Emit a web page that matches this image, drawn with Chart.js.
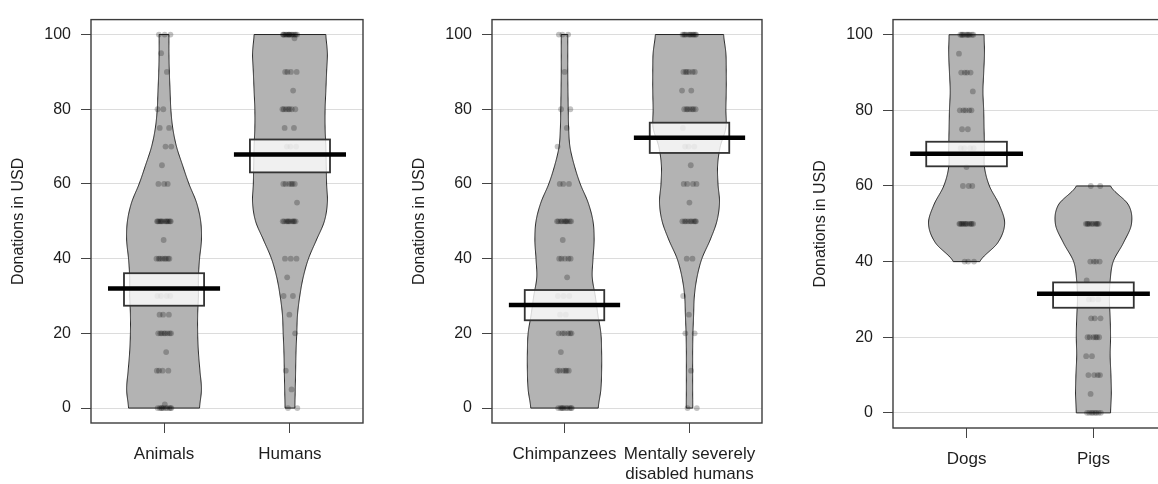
<!DOCTYPE html>
<html><head><meta charset="utf-8">
<script src="https://cdn.jsdelivr.net/npm/chart.js@4.4.1/dist/chart.umd.min.js"></script>
<style>
html,body{margin:0;padding:0;background:#fff;overflow:hidden;width:1158px;height:484px;position:relative;}
canvas{position:absolute;top:0;}
</style></head><body>
<canvas id="c1" width="380" height="484" style="left:0px"></canvas>
<canvas id="c2" width="380" height="484" style="left:401px"></canvas>
<canvas id="c3" width="380" height="484" style="left:802px"></canvas>
<script>
// ---------- data ----------
const yTicks = [0, 20, 40, 60, 80, 100];
const densityLevels = [0,5,10,15,20,25,30,35,40,45,50,55,60,65,70,75,80,85,90,95,100];

// Panel 1
const categories1 = ['Animals', 'Humans'];
const means1 = [32.0, 67.9];
const lower1 = [27.4, 63.1];
const upper1 = [36.1, 71.9];
const animalsValues = [0, 1, 10, 15, 20, 25, 30, 40, 45, 50, 60, 65, 70, 75, 80, 90, 95, 100];
const animalsCounts = [10, 1, 4, 1, 8, 3, 4, 8, 1, 12, 3, 1, 2, 2, 2, 1, 1, 3];
const animalsDensity = [0.94,0.99,0.95,0.91,0.89,0.89,0.91,0.91,0.94,0.99,0.97,0.86,0.66,0.49,0.33,0.23,0.18,0.16,0.14,0.13,0.13];
const humansValues = [0, 5, 10, 20, 25, 30, 35, 40, 50, 55, 60, 70, 75, 80, 85, 90, 99, 100];
const humansCounts = [2, 1, 1, 1, 1, 2, 1, 3, 10, 1, 6, 3, 2, 7, 1, 4, 1, 15];
const humansDensity = [0.13,0.14,0.15,0.16,0.18,0.20,0.26,0.35,0.49,0.70,0.91,0.99,0.97,0.96,0.95,0.93,0.93,0.95,0.97,0.99,0.95];

// Panel 2
const categories2 = ['Chimpanzees', ['Mentally severely', 'disabled humans']];
const means2 = [27.6, 72.4];
const lower2 = [23.5, 68.3];
const upper2 = [31.6, 76.4];
const chimpValues = [0, 10, 15, 20, 25, 30, 35, 40, 45, 50, 60, 70, 75, 80, 90, 100];
const chimpCounts = [10, 6, 1, 6, 2, 3, 1, 5, 1, 10, 3, 1, 1, 2, 1, 3];
const chimpDensity = [0.90,0.97,0.99,0.99,0.97,0.89,0.82,0.74,0.76,0.79,0.76,0.63,0.42,0.26,0.145,0.11,0.10,0.092,0.087,0.087,0.087];
const disabledValues = [0, 10, 20, 25, 30, 40, 50, 55, 60, 65, 70, 75, 80, 85, 90, 100];
const disabledCounts = [2, 1, 2, 1, 1, 2, 9, 1, 4, 1, 3, 1, 7, 2, 6, 12];
const disabledDensity = [0.087,0.084,0.084,0.084,0.092,0.11,0.13,0.20,0.33,0.55,0.73,0.80,0.76,0.75,0.82,0.97,0.97,0.98,0.98,0.97,0.91];

// Panel 3
const categories3 = ['Dogs', 'Pigs'];
const means3 = [68.5, 31.5];
const lower3 = [65.2, 27.8];
const upper3 = [71.7, 34.5];
const dogsValues = [40, 50, 60, 65, 70, 75, 80, 85, 90, 95, 100];
const dogsCounts = [3, 12, 3, 1, 4, 2, 5, 1, 4, 1, 10];
const dogsDensity = [null,null,null,null,null,null,null,null,0.35,0.82,1.0,0.86,0.60,0.47,0.47,0.46,0.45,0.43,0.45,0.47,0.46];
const pigsValues = [0, 5, 10, 15, 20, 25, 30, 35, 40, 50, 60];
const pigsCounts = [8, 1, 4, 2, 6, 3, 3, 1, 4, 10, 2];
const pigsDensity = [0.45,0.47,0.46,0.44,0.45,0.44,0.42,0.44,0.52,0.79,1.0,0.92,0.45,null,null,null,null,null,null,null,null];

// ---------- styling ----------
const FONT = "'Liberation Sans', Arial, sans-serif";
const TEXT = '#1e1e1e';
const BEAN_W = 0.30;   // max half width of bean (x units)
const BOX_W = 0.318;   // half width of inference box
const AVG_W = 0.445;   // half width of mean line
const JITTER = 0.06;

function interp(L, D, v) {
  let i = 0;
  while (i < L.length - 2 && v > L[i + 1]) i++;
  const t = (v - L[i]) / (L[i + 1] - L[i]);
  const p1 = D[i], p2 = D[i + 1];
  const p0 = i > 0 ? D[i - 1] : p1;
  const p3 = i + 2 < D.length ? D[i + 2] : p2;
  return 0.5 * (2 * p1 + (-p0 + p2) * t + (2 * p0 - 5 * p1 + 4 * p2 - p3) * t * t + (-p0 + 3 * p1 - 3 * p2 + p3) * t * t * t);
}

function buildPoints(cat, values, counts) {
  const out = [];
  let g = 0;
  values.forEach((v, i) => {
    for (let k = 0; k < counts[i]; k++) {
      const f = ((g * 0.6180339887 + 0.37) % 1) - 0.5;
      out.push({ x: cat + f * 2 * JITTER, y: v });
      g++;
    }
  });
  return out;
}

const piratePlugin = {
  id: 'pirate',
  beforeDatasetsDraw(chart) {
    const { ctx, scales: { x, y } } = chart;
    const beans = chart.options.plugins.pirate.beans;
    ctx.save();
    beans.forEach((dens, gi) => {
      const cat = gi + 1;
      const L = [], D = [];
      densityLevels.forEach((lv, i) => { if (dens[i] != null) { L.push(lv); D.push(dens[i]); } });
      const lo = L[0], hi = L[L.length - 1];
      const pts = [];
      for (let v = lo; v <= hi + 1e-9; v += 0.25) pts.push([Math.min(v, hi), Math.max(0, interp(L, D, Math.min(v, hi)))]);
      ctx.beginPath();
      pts.forEach(([v, d], k) => {
        const px = x.getPixelForValue(cat - d * BEAN_W), py = y.getPixelForValue(v);
        k ? ctx.lineTo(px, py) : ctx.moveTo(px, py);
      });
      for (let k = pts.length - 1; k >= 0; k--) {
        const [v, d] = pts[k];
        ctx.lineTo(x.getPixelForValue(cat + d * BEAN_W), y.getPixelForValue(v));
      }
      ctx.closePath();
      ctx.fillStyle = '#b3b3b3';
      ctx.fill();
      ctx.lineWidth = 1;
      ctx.strokeStyle = '#222';
      ctx.stroke();
    });
    ctx.restore();
  },
  afterDatasetsDraw(chart) {
    const { ctx, scales: { x, y } } = chart;
    const o = chart.options.plugins.pirate;
    ctx.save();
    o.means.forEach((m, gi) => {
      const cat = gi + 1;
      const x0 = x.getPixelForValue(cat - BOX_W), x1 = x.getPixelForValue(cat + BOX_W);
      const yt = y.getPixelForValue(o.upper[gi]), yb = y.getPixelForValue(o.lower[gi]);
      ctx.fillStyle = 'rgba(255,255,255,0.8)';
      ctx.fillRect(x0, yt, x1 - x0, yb - yt);
      ctx.lineWidth = 1.8;
      ctx.strokeStyle = '#333';
      ctx.strokeRect(x0, yt, x1 - x0, yb - yt);
      const ym = y.getPixelForValue(m);
      ctx.beginPath();
      ctx.moveTo(x.getPixelForValue(cat - AVG_W), ym);
      ctx.lineTo(x.getPixelForValue(cat + AVG_W), ym);
      ctx.lineWidth = 4.5;
      ctx.strokeStyle = '#000';
      ctx.lineCap = 'butt';
      ctx.stroke();
    });
    ctx.restore();
  },
  afterDraw(chart) {
    const { ctx, chartArea: a } = chart;
    ctx.save();
    ctx.lineWidth = 1.4;
    ctx.strokeStyle = '#3c3c3c';
    ctx.strokeRect(a.left, a.top, a.right - a.left, a.bottom - a.top);
    ctx.restore();
  }
};

function makePanel(id, cats, groups, means, lower, upper, areaW, xAxisH) {
  const datasets = groups.map((g, gi) => ({
    type: 'scatter',
    data: buildPoints(gi + 1, g.values, g.counts),
    pointRadius: 2.9,
    pointHoverRadius: 2.9,
    pointBackgroundColor: 'rgba(0,0,0,0.24)',
    pointBorderWidth: 0
  }));
  return new Chart(document.getElementById(id), {
    type: 'scatter',
    data: { datasets },
    options: {
      responsive: false,
      animation: false,
      devicePixelRatio: 1,
      events: [],
      layout: { padding: { left: 0, top: 14, right: 380 - 91 - areaW, bottom: 0 } },
      plugins: {
        legend: { display: false },
        tooltip: { enabled: false },
        pirate: { beans: groups.map(g => g.density), means, lower, upper }
      },
      scales: {
        x: {
          type: 'linear', min: 0.42, max: 2.58,
          afterBuildTicks: s => { s.ticks = [{ value: 1 }, { value: 2 }]; },
          afterFit: s => { s.height = xAxisH; },
          ticks: {
            callback: (v, i) => cats[i],
            font: { family: FONT, size: 17 }, color: TEXT,
            padding: 11, autoSkip: false, maxRotation: 0, minRotation: 0
          },
          grid: { drawOnChartArea: false, tickLength: 10, tickColor: '#444', tickWidth: 1 },
          border: { display: false }
        },
        y: {
          type: 'linear', min: -4, max: 104,
          afterBuildTicks: s => { s.ticks = yTicks.map(v => ({ value: v })); },
          afterFit: s => { s.width = 91; },
          ticks: { font: { family: FONT, size: 16 }, color: TEXT, padding: 10 },
          grid: { color: '#dcdcdc', lineWidth: 1, tickLength: 10, tickColor: '#444', tickWidth: 1 },
          border: { display: false },
          title: {
            display: true, text: 'Donations in USD',
            font: { family: FONT, size: 16 }, color: TEXT,
            padding: { top: 9, bottom: 0 }
          }
        }
      }
    },
    plugins: [piratePlugin]
  });
}

makePanel('c1', categories1,
  [{ values: animalsValues, counts: animalsCounts, density: animalsDensity },
   { values: humansValues, counts: humansCounts, density: humansDensity }],
  means1, lower1, upper1, 272, 61);
makePanel('c2', categories2,
  [{ values: chimpValues, counts: chimpCounts, density: chimpDensity },
   { values: disabledValues, counts: disabledCounts, density: disabledDensity }],
  means2, lower2, upper2, 270, 61);
makePanel('c3', categories3,
  [{ values: dogsValues, counts: dogsCounts, density: dogsDensity },
   { values: pigsValues, counts: pigsCounts, density: pigsDensity }],
  means3, lower3, upper3, 274, 56);
</script>
</body></html>
